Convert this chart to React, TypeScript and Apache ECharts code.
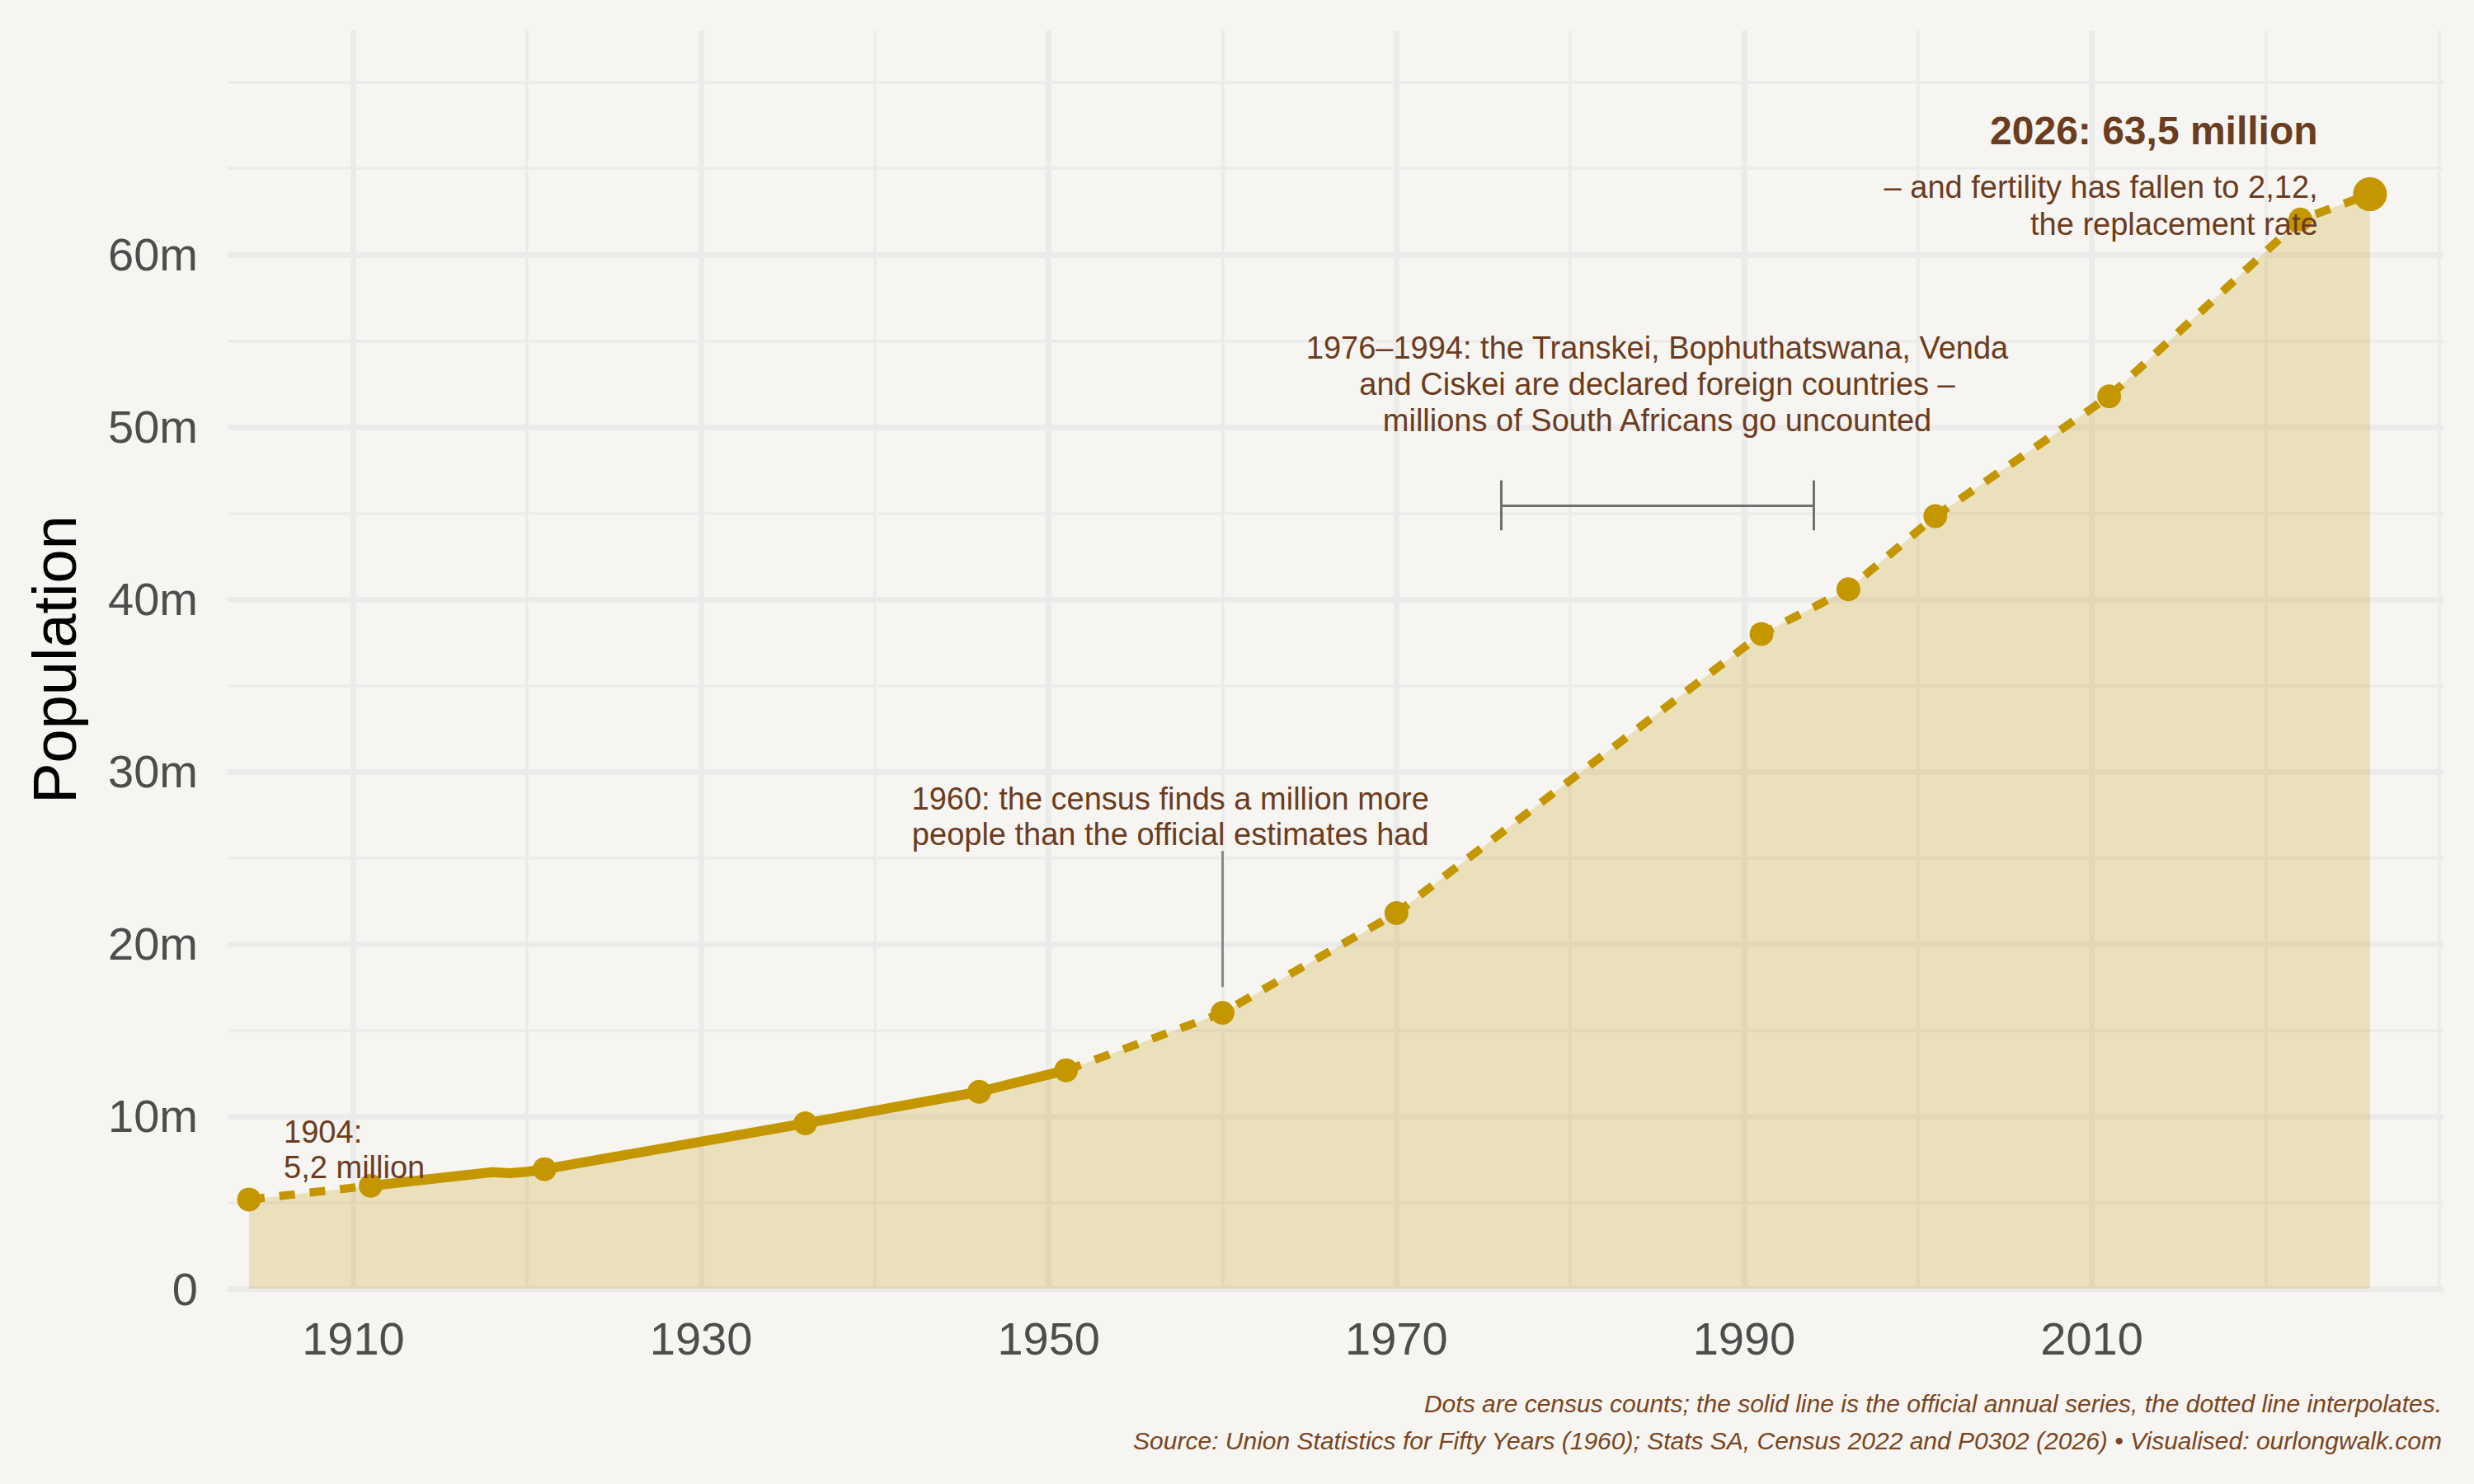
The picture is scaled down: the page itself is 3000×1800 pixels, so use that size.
import React, { useEffect, useRef } from "react";
import * as echarts from "echarts";

const FONT = "'Liberation Sans', Arial, Helvetica, sans-serif";
const GOLD = "#C49600";
const BROWN = "#6B3C20";
const CAPTION_BROWN = "#7A4522";
const BG = "#F6F5F1";
const GRID = "#EBEBEB";

// Census counts (millions)
const censusYears = [1904, 1911, 1921, 1936, 1946, 1951, 1960, 1970, 1991, 1996, 2001, 2011, 2022];
const censusPop = [5.17, 5.97, 6.93, 9.59, 11.42, 12.67, 16.0, 21.79, 37.98, 40.58, 44.82, 51.77, 62.03];

// Latest estimate
const latestYear = 2026;
const latestPop = 63.5;

// Official annual series (solid line)
const officialYears = [1911, 1918, 1919, 1920, 1921, 1936, 1946, 1951];
const officialPop = [5.97, 6.76, 6.7, 6.78, 6.93, 9.59, 11.42, 12.67];

// Axis ticks
const xMajor = [1910, 1930, 1950, 1970, 1990, 2010];
const xMinor = [1920, 1940, 1960, 1980, 2000, 2020, 2030];
const yMajor = [0, 10, 20, 30, 40, 50, 60];
const yMinor = [5, 15, 25, 35, 45, 55, 65, 70];

const CAPTION =
  "Dots are census counts; the solid line is the official annual series, the dotted line interpolates.\n" +
  "Source: Union Statistics for Fifty Years (1960); Stats SA, Census 2022 and P0302 (2026) • Visualised: ourlongwalk.com";

export default function App() {
  const ref = useRef<HTMLDivElement>(null);

  useEffect(() => {
    document.body.style.margin = "0";
    document.body.style.background = BG;
    const chart = echarts.init(ref.current as HTMLDivElement, null, {
      renderer: "svg",
      width: 3000,
      height: 1800,
    });

    const early = [
      [censusYears[0], censusPop[0]],
      [officialYears[0], officialPop[0]],
    ];
    const solid = officialYears.map((y, i) => [y, officialPop[i]]);
    const lastOfficial = officialYears[officialYears.length - 1];
    const late: number[][] = [[lastOfficial, officialPop[officialPop.length - 1]]];
    censusYears.forEach((y, i) => {
      if (y > lastOfficial) late.push([y, censusPop[i]]);
    });
    late.push([latestYear, latestPop]);
    const area = [early[0], ...solid, ...late.slice(1)];
    const dots = censusYears.map((y, i) => [y, censusPop[i]]);

    const gl = (width: number) => ({ width, color: GRID, type: "solid" });
    const gridLines: any[] = [
      ...xMajor.map((v) => ({ xAxis: v, lineStyle: gl(7) })),
      ...xMinor.map((v) => ({ xAxis: v, lineStyle: gl(3.5) })),
      ...yMajor.map((v) => ({ yAxis: v, lineStyle: gl(7) })),
      ...yMinor.map((v) => ({ yAxis: v, lineStyle: gl(3.5) })),
    ];

    const annoLabel = (text: string, align: string, extra: any = {}) => ({
      show: true,
      position: [0, 0],
      formatter: text,
      align,
      verticalAlign: "bottom",
      fontFamily: FONT,
      fontSize: 38,
      lineHeight: 43,
      color: BROWN,
      opacity: 1,
      textBorderWidth: 0,
      ...extra,
    });

    const seg = (a: number[], b: number[], color: string) => [
      { coord: a, lineStyle: { color, width: 3, type: "solid" } },
      { coord: b },
    ];

    const option: any = {
      animation: false,
      backgroundColor: BG,
      grid: {
        left: 276,
        right: 37,
        top: 37,
        bottom: 237,
        containLabel: false,
        outerBoundsMode: "none",
      },
      xAxis: {
        type: "value",
        min: 1902.77,
        max: 2030.23,
        axisLine: { show: false },
        axisTick: { show: false },
        splitLine: { show: false },
        axisLabel: {
          customValues: xMajor,
          formatter: (v: number) => String(v),
          fontFamily: FONT,
          fontSize: 56,
          lineHeight: 56,
          color: "#4D4D4D",
          margin: 32,
        },
      },
      yAxis: {
        type: "value",
        min: 0,
        max: 73,
        axisLine: { show: false },
        axisTick: { show: false },
        splitLine: { show: false },
        name: "Population",
        nameLocation: "middle",
        nameRotate: 90,
        nameGap: 173,
        nameTextStyle: { fontFamily: FONT, fontSize: 74, lineHeight: 74, color: "#000000" },
        axisLabel: {
          customValues: yMajor,
          formatter: (v: number) => (v === 0 ? "0" : `${v}m`),
          fontFamily: FONT,
          fontSize: 56,
          lineHeight: 56,
          color: "#4D4D4D",
          margin: 36,
        },
      },
      graphic: [
        {
          type: "text",
          right: 39,
          top: 1680,
          silent: true,
          style: {
            text: CAPTION,
            fontFamily: FONT,
            fontSize: 30,
            fontStyle: "italic",
            lineHeight: 45,
            fill: CAPTION_BROWN,
            textAlign: "right",
          },
        },
      ],
      series: [
        {
          name: "grid",
          type: "line",
          z: 1,
          silent: true,
          data: [[1904, 0]],
          symbol: "none",
          lineStyle: { opacity: 0 },
          markLine: {
            z: 1,
            silent: true,
            symbol: ["none", "none"],
            label: { show: false },
            animation: false,
            data: gridLines,
          },
        },
        {
          name: "area",
          type: "line",
          z: 2,
          silent: true,
          data: area,
          symbol: "none",
          lineStyle: { width: 0, opacity: 0 },
          areaStyle: { color: "rgba(196,150,0,0.22)", opacity: 1 },
        },
        {
          name: "interpolated-early",
          type: "line",
          z: 3,
          silent: true,
          data: early,
          symbol: "none",
          lineStyle: { color: GOLD, width: 10, type: [19, 18], cap: "butt" },
        },
        {
          name: "interpolated-late",
          type: "line",
          z: 3,
          silent: true,
          data: late,
          symbol: "none",
          lineStyle: { color: GOLD, width: 10, type: [19, 18], cap: "butt" },
        },
        {
          name: "official",
          type: "line",
          z: 3,
          silent: true,
          data: solid,
          symbol: "none",
          lineStyle: { color: GOLD, width: 12, join: "round", cap: "round" },
        },
        {
          name: "census",
          type: "scatter",
          z: 4,
          silent: true,
          data: dots,
          symbolSize: 29,
          itemStyle: { color: GOLD, opacity: 1 },
        },
        {
          name: "latest",
          type: "scatter",
          z: 4,
          silent: true,
          data: [[latestYear, latestPop]],
          symbolSize: 41,
          itemStyle: { color: GOLD, opacity: 1 },
        },
        {
          name: "annotations",
          type: "scatter",
          z: 5,
          silent: true,
          symbolSize: 0,
          itemStyle: { color: "rgba(0,0,0,0)", opacity: 1 },
          data: [
            { value: [1906.0, 6.01], label: annoLabel("1904:\n5,2 million", "left") },
            {
              value: [1957.0, 25.34],
              label: annoLabel("1960: the census finds a million more\npeople than the official estimates had", "center"),
            },
            {
              value: [1985.0, 49.34],
              label: annoLabel(
                "1976–1994: the Transkei, Bophuthatswana, Venda\nand Ciskei are declared foreign countries –\nmillions of South Africans go uncounted",
                "center",
                { lineHeight: 44 }
              ),
            },
            {
              value: [2023.0, 60.66],
              label: annoLabel("– and fertility has fallen to 2,12,\nthe replacement rate", "right", { lineHeight: 45 }),
            },
            {
              value: [2023.0, 65.83],
              label: annoLabel("2026: 63,5 million", "right", { fontSize: 48, lineHeight: 56, fontWeight: "bold" }),
            },
          ],
          markLine: {
            silent: true,
            symbol: ["none", "none"],
            label: { show: false },
            animation: false,
            data: [
              seg([1960, 17.5], [1960, 25.4], "#8A8A8A"),
              seg([1976, 45.45], [1994, 45.45], "#707070"),
              seg([1976, 44.0], [1976, 46.9], "#707070"),
              seg([1994, 44.0], [1994, 46.9], "#707070"),
            ],
          },
        },
      ],
    };

    chart.setOption(option);
    return () => chart.dispose();
  }, []);

  return <div ref={ref} style={{ width: 3000, height: 1800 }} />;
}
